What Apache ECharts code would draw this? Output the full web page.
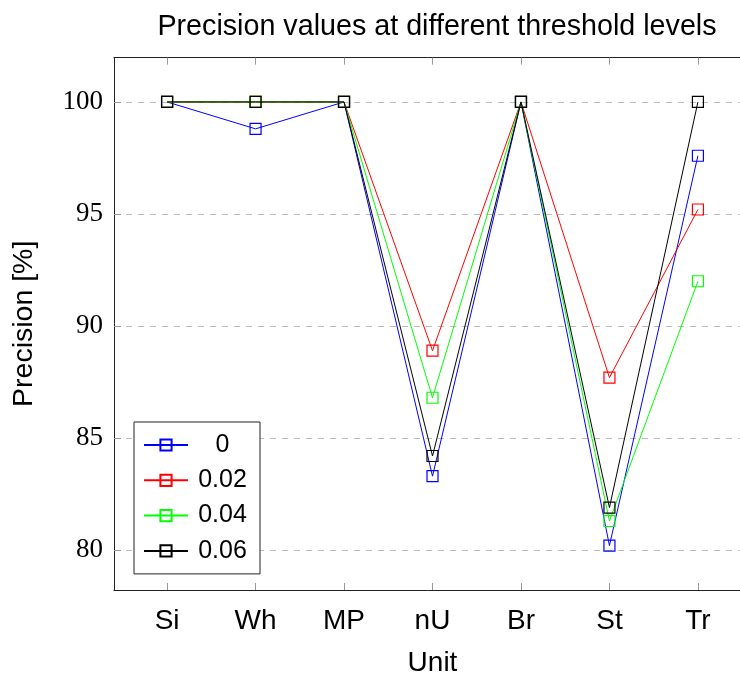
<!DOCTYPE html>
<html><head><meta charset="utf-8">
<script src="https://cdn.jsdelivr.net/npm/echarts@6/dist/echarts.min.js"></script>
<style>html,body{margin:0;padding:0;background:#fff}#c{width:740px;height:677px}</style>
</head><body><div id="c"></div>
<script>
const units = ['Si', 'Wh', 'MP', 'nU', 'Br', 'St', 'Tr'];
const seriesNames = ['0', '0.02', '0.04', '0.06'];
const seriesColors = ['#0000ff', '#ff0000', '#00ff00', '#000000'];
const t0   = [100, 98.8, 100, 83.3, 100, 80.2, 97.6];
const t002 = [100, 100, 100, 88.9, 100, 87.7, 95.2];
const t004 = [100, 100, 100, 86.8, 100, 81.3, 92.0];
const t006 = [100, 100, 100, 84.2, 100, 81.9, 100];
const yTicks = [80, 85, 90, 95, 100];
const xTicks = [0, 1, 2, 3, 4, 5, 6];

const values = [t0, t002, t004, t006];
const chart = echarts.init(document.getElementById('c'), null, {renderer: 'canvas'});
const sans = 'Liberation Sans';
const serif = 'Liberation Serif';

const xBase = {
  type: 'value', min: -0.6, max: 6.6,
  axisLine: {show: true, onZero: false, lineStyle: {color: '#222', width: 1}},
  axisTick: {show: true, inside: true, length: 7, customValues: xTicks, lineStyle: {color: '#999'}},
  splitLine: {show: false}
};
const yBase = {
  type: 'value', min: 78.22, max: 101.98,
  axisLine: {show: true, onZero: false, lineStyle: {color: '#222', width: 1}},
  axisTick: {show: true, inside: true, length: 7, customValues: yTicks, lineStyle: {color: '#999'}}
};

chart.setOption({
  backgroundColor: '#fff',
  animation: false,
  title: {
    text: 'Precision values at different threshold levels',
    left: 432, top: 8, textAlign: 'center',
    textStyle: {fontFamily: sans, fontSize: 28.7, fontWeight: 'normal', color: '#000'}
  },
  grid: {left: 114, width: 637, top: 57.6, height: 532.4, containLabel: false, outerBoundsMode: 'none'},
  legend: {
    data: seriesNames,
    orient: 'vertical',
    left: 134, top: 422,
    padding: [8, 8, 8, 9],
    itemWidth: 44, itemHeight: 14, itemGap: 5.3,
    backgroundColor: '#fff',
    borderColor: '#222', borderWidth: 1,
    formatter: n => '{t|' + n + '}',
    textStyle: {
      fontFamily: sans, fontSize: 25, color: '#000', lineHeight: 30,
      rich: {t: {fontFamily: sans, fontSize: 25, color: '#000', width: 59, height: 30, align: 'center', lineHeight: 30}}
    }
  },
  xAxis: [
    Object.assign({}, xBase, {
      position: 'bottom',
      name: 'Unit', nameLocation: 'middle', nameGap: 59,
      nameTextStyle: {fontFamily: sans, fontSize: 28, color: '#000'},
      axisLabel: {show: true, customValues: xTicks, margin: 17,
        fontFamily: sans, fontSize: 28, color: '#000',
        formatter: v => units[Math.round(v)] || ''}
    }),
    Object.assign({}, xBase, {position: 'top', axisLabel: {show: false}})
  ],
  yAxis: [
    Object.assign({}, yBase, {
      position: 'left',
      name: 'Precision [%]', nameLocation: 'middle', nameGap: 75, nameRotate: 90,
      nameTextStyle: {fontFamily: sans, fontSize: 28.5, color: '#000'},
      axisLabel: {show: true, customValues: yTicks, margin: 11,
        fontFamily: serif, fontSize: 27, color: '#000'},
      splitLine: {show: true, lineStyle: {color: '#bbb', type: [6, 6], width: 1}}
    }),
    Object.assign({}, yBase, {position: 'right', axisLabel: {show: false}, splitLine: {show: false}})
  ],
  series: values.map((arr, i) => ({
    name: seriesNames[i],
    type: 'line',
    xAxisIndex: 0, yAxisIndex: 0,
    data: arr.map((v, j) => [xTicks[j], v]),
    symbol: 'rect', symbolSize: 11,
    lineStyle: {color: seriesColors[i], width: 1},
    itemStyle: {color: 'rgba(255,255,255,0)', borderColor: seriesColors[i], borderWidth: 1.2},
    z: 2 + i
  }))
});
</script></body></html>
